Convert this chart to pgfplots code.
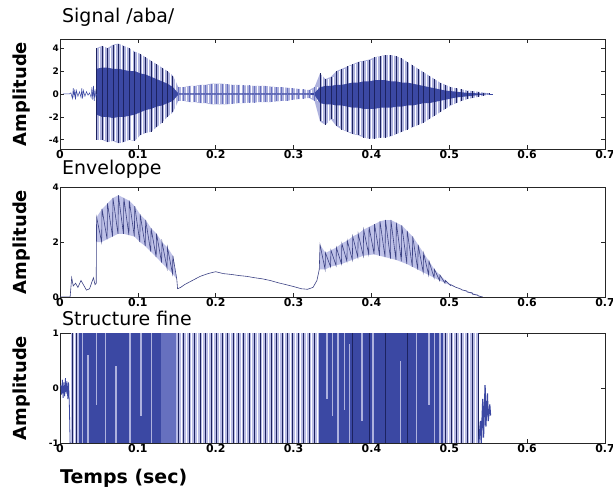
\documentclass[border=0pt]{standalone}
\usepackage{pgfplots}
\pgfplotsset{compat=1.18}
\usepackage{pgfplotstable}
\usepackage{fontspec}
\setmainfont{DejaVu Sans}
\definecolor{lav}{HTML}{AEB2DE}
\definecolor{lavB}{HTML}{B9BCE6}
\definecolor{dkb}{HTML}{3B48A3}
\definecolor{navy}{HTML}{1C2260}
\definecolor{med}{HTML}{6670BF}
\definecolor{envfill}{HTML}{BFC2E8}
\definecolor{envline}{HTML}{3C4284}

% signal /aba/ : one row per pitch period
\pgfplotstableread{
t tw hi lo ihi ilo
0.047 0.0505 4.0 -4.0 2.2 -1.8
0.054 0.0575 4.2 -4.0 2.3 -2.0
0.061 0.0645 4.0 -4.2 2.3 -2.0
0.068 0.0715 4.3 -4.1 2.2 -2.1
0.075 0.0785 4.4 -4.3 2.2 -2.0
0.082 0.0855 4.2 -4.2 2.1 -2.0
0.089 0.0925 4.0 -4.0 2.0 -1.9
0.096 0.0995 3.7 -4.1 2.0 -1.8
0.103 0.1065 3.5 -3.6 1.8 -1.6
0.110 0.1135 3.2 -3.4 1.7 -1.4
0.117 0.1205 2.9 -3.3 1.5 -1.3
0.124 0.1275 2.6 -2.9 1.3 -1.1
0.131 0.1345 2.3 -2.5 1.1 -1.0
0.138 0.1415 2.0 -2.0 0.9 -0.8
0.145 0.1485 1.6 -1.6 0.6 -0.6
0.152 0.1555 0.6 -0.6 0.05 -0.05
0.159 0.1625 0.6 -0.6 0.05 -0.05
0.166 0.1695 0.7 -0.7 0.05 -0.05
0.173 0.1765 0.7 -0.7 0.05 -0.05
0.180 0.1835 0.8 -0.8 0.05 -0.05
0.187 0.1905 0.8 -0.8 0.05 -0.05
0.194 0.1975 0.9 -0.9 0.05 -0.05
0.201 0.2045 0.9 -0.9 0.05 -0.05
0.208 0.2115 0.9 -0.9 0.05 -0.05
0.215 0.2185 0.85 -0.9 0.05 -0.05
0.222 0.2255 0.8 -0.85 0.05 -0.05
0.229 0.2325 0.8 -0.8 0.05 -0.05
0.236 0.2395 0.75 -0.8 0.05 -0.05
0.243 0.2465 0.75 -0.75 0.05 -0.05
0.250 0.2535 0.7 -0.75 0.05 -0.05
0.257 0.2605 0.7 -0.7 0.05 -0.05
0.264 0.2675 0.7 -0.7 0.05 -0.05
0.271 0.2745 0.65 -0.7 0.05 -0.05
0.278 0.2815 0.6 -0.65 0.05 -0.05
0.285 0.2885 0.6 -0.6 0.05 -0.05
0.292 0.2955 0.55 -0.6 0.05 -0.05
0.299 0.3025 0.5 -0.5 0.05 -0.05
0.306 0.3095 0.45 -0.45 0.05 -0.05
0.313 0.3165 0.4 -0.4 0.05 -0.05
0.320 0.3235 0.35 -0.35 0.05 -0.05
0.327 0.3305 0.6 -0.6 0.1 -0.1
0.334 0.3375 1.8 -2.4 0.6 -0.8
0.341 0.3445 1.3 -2.7 0.7 -0.9
0.348 0.3515 1.5 -2.2 0.7 -0.9
0.355 0.3585 2.0 -2.8 0.8 -1.0
0.362 0.3655 2.2 -3.1 0.8 -1.0
0.369 0.3725 2.4 -3.3 0.9 -1.1
0.376 0.3795 2.6 -3.5 1.0 -1.2
0.383 0.3865 2.8 -3.6 1.0 -1.2
0.390 0.3935 2.9 -3.8 1.1 -1.3
0.397 0.4005 3.0 -3.9 1.1 -1.3
0.404 0.4075 3.2 -3.9 1.2 -1.3
0.411 0.4145 3.3 -3.8 1.2 -1.2
0.418 0.4215 3.4 -3.8 1.2 -1.2
0.425 0.4285 3.4 -3.7 1.1 -1.2
0.432 0.4355 3.3 -3.5 1.1 -1.1
0.439 0.4425 3.1 -3.3 1.0 -1.1
0.446 0.4495 2.8 -3.1 1.0 -1.0
0.453 0.4565 2.5 -2.9 0.9 -1.0
0.460 0.4635 2.2 -2.7 0.8 -0.9
0.467 0.4705 1.9 -2.5 0.7 -0.8
0.474 0.4775 1.6 -2.2 0.6 -0.8
0.481 0.4845 1.3 -1.9 0.5 -0.7
0.488 0.4915 1.0 -1.6 0.4 -0.6
0.495 0.4985 0.8 -1.3 0.3 -0.5
0.502 0.5055 0.6 -1.0 0.25 -0.4
0.509 0.5125 0.5 -0.8 0.2 -0.3
0.516 0.5195 0.4 -0.6 0.15 -0.25
0.523 0.5265 0.3 -0.45 0.1 -0.2
0.530 0.5335 0.25 -0.35 0.08 -0.15
0.537 0.5405 0.2 -0.25 0.05 -0.1
0.544 0.5475 0.12 -0.15 0.03 -0.05
0.551 0.5545 0.05 -0.05 0.02 -0.02
}\sig

% structure fine: full-height dark strokes
\pgfplotstableread{
t hi lo
0.016 1 -1
0.021 1 -1
0.152 1 -1
0.159 1 -1
0.166 1 -1
0.173 1 -1
0.180 1 -1
0.187 1 -1
0.194 1 -1
0.201 1 -1
0.208 1 -1
0.215 1 -1
0.222 1 -1
0.229 1 -1
0.236 1 -1
0.243 1 -1
0.250 1 -1
0.257 1 -1
0.264 1 -1
0.271 1 -1
0.278 1 -1
0.285 1 -1
0.292 1 -1
0.299 1 -1
0.306 1 -1
0.313 1 -1
0.320 1 -1
0.327 1 -1
0.376 1 -1
0.397 1 -1
0.418 1 -1
0.446 1 -1
0.495 1 -1
0.502 1 -1
0.509 1 -1
0.516 1 -1
0.523 1 -1
0.530 1 -1
0.537 1 -1
}\fsnavy

% structure fine: white gaps
\pgfplotstableread{
t hi lo
0.0185 1 -1
0.1555 1 -1
0.1625 1 -1
0.1695 1 -1
0.1765 1 -1
0.1835 1 -1
0.1905 1 -1
0.1975 1 -1
0.2045 1 -1
0.2115 1 -1
0.2185 1 -1
0.2255 1 -1
0.2325 1 -1
0.2395 1 -1
0.2465 1 -1
0.2535 1 -1
0.2605 1 -1
0.2675 1 -1
0.2745 1 -1
0.2815 1 -1
0.2885 1 -1
0.2955 1 -1
0.3025 1 -1
0.3095 1 -1
0.3165 1 -1
0.3235 1 -1
0.3305 1 -1
0.4985 1 -1
0.5055 1 -1
0.5125 1 -1
0.5195 1 -1
0.5265 1 -1
0.5335 1 -1
}\fswhite

% structure fine: light strokes inside the dark parts
\pgfplotstableread{
t hi lo
0.029 1 -1
0.036 0.6 -1
0.047 1 -0.3
0.058 1 -1
0.072 0.4 -1
0.090 1 -1
0.104 1 -0.5
0.118 1 -1
0.343 1 -0.2
0.350 1 -0.5
0.357 1 -1
0.365 1 -0.4
0.372 0.8 -1
0.388 1 -0.6
0.402 1 -1
0.437 0.5 -1
0.458 1 -1
0.474 1 -0.3
0.481 1 -1
0.488 1 -1
}\fslight

\pgfplotsset{
  wave/.style={
    scale only axis,width=545bp,height=110bp,
    xmin=0,xmax=0.7,
    xtick={0,0.1,0.2,0.3,0.4,0.5,0.6,0.7},
    xticklabels={0,0.1,0.2,0.3,0.4,0.5,0.6,0.7},
    tick align=inside,major tick length=4bp,
    axis line style={black!85,line width=0.9bp},
    every tick/.style={black!85,line width=0.7bp},
    xticklabel style={font=\bfseries\fontsize{11}{12}\selectfont,inner sep=1.5bp},
    yticklabel style={font=\bfseries\fontsize{9}{10}\selectfont,inner sep=1bp},
    ylabel={Amplitude},
    ylabel style={font=\bfseries\fontsize{18}{20}\selectfont,at={(axis description cs:-0.071,0.5)},anchor=center},
    title style={font=\fontsize{19}{22}\selectfont,at={(axis description cs:0,1)},anchor=base west,inner sep=0pt,xshift=2bp},
  }
}

\begin{document}
\begin{tikzpicture}
\useasboundingbox (-60bp,0bp) rectangle (553bp,-488bp);

\begin{axis}[wave,at={(0bp,-39bp)},anchor=north west,
  ymin=-4.8,ymax=4.8,ytick={-4,-2,0,2,4},yticklabels={-4,-2,0,2,4},
  title={Signal /aba/},title style={yshift=11bp}]
\addplot[draw=none,fill=lav] table[x=t,y=hi] {\sig} \closedcycle;
\addplot[draw=none,fill=lav] table[x=t,y=lo] {\sig} \closedcycle;
\addplot[ycomb,white,line width=1.1bp] table[x=tw,y=hi] {\sig};
\addplot[ycomb,white,line width=1.1bp] table[x=tw,y=lo] {\sig};
\addplot[draw=none,fill=dkb] table[x=t,y=ihi] {\sig} \closedcycle;
\addplot[draw=none,fill=dkb] table[x=t,y=ilo] {\sig} \closedcycle;
% vowels: dark strokes, consonant transition: lighter strokes
\addplot[ycomb,navy,line width=0.8bp,restrict x to domain=0:0.149] table[x=t,y=hi] {\sig};
\addplot[ycomb,navy,line width=0.8bp,restrict x to domain=0:0.149] table[x=t,y=lo] {\sig};
\addplot[ycomb,navy,line width=0.8bp,restrict x to domain=0.33:0.6] table[x=t,y=hi] {\sig};
\addplot[ycomb,navy,line width=0.8bp,restrict x to domain=0.33:0.6] table[x=t,y=lo] {\sig};
\addplot[ycomb,med,line width=0.8bp,restrict x to domain=0.15:0.329] table[x=t,y=hi] {\sig};
\addplot[ycomb,med,line width=0.8bp,restrict x to domain=0.15:0.329] table[x=t,y=lo] {\sig};
\addplot[dkb,line width=0.5bp] coordinates {(0.004,0)(0.012,0)(0.014,0.1)(0.016,-0.4)(0.017,0.5)(0.018,-0.3)(0.019,0.4)(0.020,-0.5)(0.021,0.3)(0.023,-0.2)(0.025,0.2)(0.027,-0.3)(0.028,0.5)(0.029,-0.4)(0.030,0.3)(0.032,-0.2)(0.034,0.2)(0.036,-0.1)(0.038,0.1)(0.040,-0.3)(0.041,0.6)(0.042,-0.5)(0.043,0.7)(0.044,-0.6)(0.045,0.4)(0.046,-0.2)(0.047,0)};
\addplot[dkb,line width=0.5bp] coordinates {(0.551,0)(0.556,0)};
\end{axis}

\begin{axis}[wave,at={(0bp,-187bp)},anchor=north west,
  ymin=0,ymax=4,ytick={0,2,4},yticklabels={0,2,4},
  title={Enveloppe},title style={yshift=7bp}]
\addplot[draw=none,fill=envfill] coordinates {(0.047,2.0)(0.047,2.9)(0.054,3.2)(0.061,3.4)(0.068,3.6)(0.075,3.7)(0.082,3.6)(0.089,3.5)(0.096,3.3)(0.103,3.0)(0.110,2.8)(0.117,2.5)(0.124,2.3)(0.131,2.0)(0.138,1.8)(0.145,1.5)(0.150,0.65)(0.1445,0.85)(0.1375,1.05)(0.1305,1.25)(0.1235,1.45)(0.1165,1.65)(0.1095,1.85)(0.1025,2.0)(0.0955,2.2)(0.0885,2.25)(0.0815,2.3)(0.0745,2.3)(0.0675,2.2)(0.0605,2.1)(0.0535,2.0)};
\addplot[draw=none,fill=envfill] coordinates {(0.333,1.0)(0.334,1.9)(0.341,1.6)(0.348,1.7)(0.355,1.8)(0.362,1.95)(0.369,2.05)(0.376,2.2)(0.383,2.3)(0.390,2.45)(0.397,2.55)(0.404,2.65)(0.411,2.75)(0.418,2.8)(0.425,2.8)(0.432,2.7)(0.439,2.6)(0.446,2.4)(0.453,2.2)(0.460,1.9)(0.467,1.6)(0.474,1.3)(0.481,1.0)(0.488,0.8)(0.495,0.6)(0.502,0.45)(0.509,0.35)(0.516,0.26)(0.523,0.18)(0.530,0.1)(0.537,0.04)(0.543,0)(0.5295,0.15)(0.5155,0.28)(0.5015,0.42)(0.4875,0.6)(0.4735,0.8)(0.4595,1.0)(0.4455,1.2)(0.4315,1.35)(0.4175,1.45)(0.4035,1.55)(0.3895,1.5)(0.3755,1.35)(0.3615,1.2)(0.3475,1.1)(0.3405,1.0)};
\addplot[envline,line width=0.6bp] coordinates {(0,0)(0.013,0)(0.015,0.7)(0.017,0.4)(0.020,0.5)(0.023,0.35)(0.027,0.6)(0.030,0.45)(0.034,0.25)(0.038,0.3)(0.041,0.55)(0.043,0.7)(0.045,0.45)(0.0465,0.5)
(0.047,2.9)(0.0535,2.0)(0.054,3.2)(0.0605,2.1)(0.061,3.4)(0.0675,2.2)(0.068,3.6)(0.0745,2.3)(0.075,3.7)(0.0815,2.3)(0.082,3.6)(0.0885,2.25)(0.089,3.5)(0.0955,2.2)(0.096,3.3)(0.1025,2.0)(0.103,3.0)(0.1095,1.85)(0.110,2.8)(0.1165,1.65)(0.117,2.5)(0.1235,1.45)(0.124,2.3)(0.1305,1.25)(0.131,2.0)(0.1375,1.05)(0.138,1.8)(0.1445,0.85)(0.145,1.5)(0.150,0.65)
(0.151,0.3)(0.155,0.35)(0.160,0.45)(0.170,0.6)(0.180,0.75)(0.190,0.85)(0.200,0.92)(0.210,0.85)(0.220,0.82)(0.230,0.78)(0.240,0.75)(0.250,0.7)(0.260,0.66)(0.270,0.6)(0.280,0.52)(0.290,0.45)(0.300,0.38)(0.310,0.3)(0.318,0.28)(0.325,0.35)(0.330,0.6)(0.333,1.0)
(0.334,1.9)(0.3405,1.0)(0.341,1.6)(0.3475,1.1)(0.348,1.7)(0.3545,1.15)(0.355,1.8)(0.3615,1.2)(0.362,1.95)(0.3685,1.3)(0.369,2.05)(0.3755,1.35)(0.376,2.2)(0.3825,1.45)(0.383,2.3)(0.3895,1.5)(0.390,2.45)(0.3965,1.55)(0.397,2.55)(0.4035,1.55)(0.404,2.65)(0.4105,1.5)(0.411,2.75)(0.4175,1.45)(0.418,2.8)(0.4245,1.4)(0.425,2.8)(0.4315,1.35)(0.432,2.7)(0.4385,1.3)(0.439,2.6)(0.4455,1.2)(0.446,2.4)(0.4525,1.1)(0.453,2.2)(0.4595,1.0)(0.460,1.9)(0.4665,0.9)(0.467,1.6)(0.4735,0.8)(0.474,1.3)(0.4805,0.7)(0.481,1.0)(0.4875,0.6)(0.488,0.8)(0.4945,0.5)(0.495,0.6)(0.5015,0.42)(0.502,0.45)(0.5085,0.35)(0.509,0.35)(0.5155,0.28)(0.516,0.26)(0.5225,0.22)(0.523,0.18)(0.5295,0.15)(0.530,0.1)(0.5365,0.07)(0.537,0.04)(0.543,0.0)};
\end{axis}

\begin{axis}[wave,at={(0bp,-333bp)},anchor=north west,
  ymin=-1,ymax=1,ytick={-1,0,1},yticklabels={-1,0,1},
  title={Structure fine},title style={yshift=2bp},
  xlabel={Temps (sec)},
  xlabel style={font=\bfseries\fontsize{19}{21}\selectfont,at={(axis description cs:0,0)},anchor=base west,inner sep=0pt,yshift=-40bp}]
\addplot[draw=none,fill=lavB] coordinates {(0.014,-1)(0.014,1)(0.024,1)(0.024,-1)};
\addplot[draw=none,fill=dkb] coordinates {(0.024,-1)(0.024,1)(0.149,1)(0.149,-1)};
\addplot[draw=none,fill=med] coordinates {(0.130,-1)(0.130,1)(0.149,1)(0.149,-1)};
\addplot[draw=none,fill=lavB] coordinates {(0.149,-1)(0.149,1)(0.333,1)(0.333,-1)};
\addplot[draw=none,fill=dkb] coordinates {(0.333,-1)(0.333,1)(0.492,1)(0.492,-1)};
\addplot[draw=none,fill=lavB] coordinates {(0.492,-1)(0.492,1)(0.538,1)(0.538,-1)};
\addplot[ycomb,white,line width=1bp] table[x=t,y=hi] {\fswhite};
\addplot[ycomb,white,line width=1bp] table[x=t,y=lo] {\fswhite};
\addplot[ycomb,lav,line width=1.2bp] table[x=t,y=hi] {\fslight};
\addplot[ycomb,lav,line width=1.2bp] table[x=t,y=lo] {\fslight};
\addplot[ycomb,navy,line width=0.6bp] table[x=t,y=hi] {\fsnavy};
\addplot[ycomb,navy,line width=0.6bp] table[x=t,y=lo] {\fsnavy};
\addplot[dkb,line width=0.8bp] coordinates {(0.001,0.05)(0.002,-0.12)(0.003,0.15)(0.004,-0.18)(0.005,0.1)(0.006,-0.15)(0.007,0.18)(0.008,-0.1)(0.009,0.12)(0.010,-0.2)(0.011,0.1)(0.012,-0.3)(0.013,-1.0)};
\addplot[dkb,line width=1.2bp] coordinates {(0.538,-1)(0.540,-0.6)(0.541,-1)(0.543,-0.2)(0.544,-0.9)(0.546,0.05)(0.547,-0.7)(0.549,-0.1)(0.550,-0.6)(0.552,-0.3)(0.553,-0.5)};
\end{axis}
\end{tikzpicture}
\end{document}
